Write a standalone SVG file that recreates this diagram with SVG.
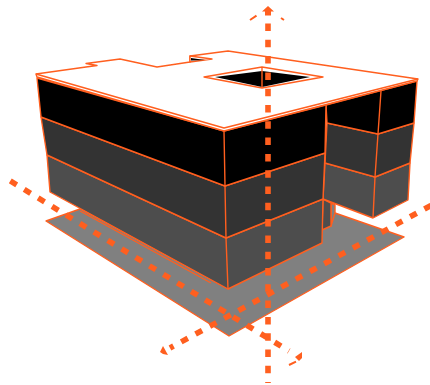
<svg xmlns="http://www.w3.org/2000/svg" width="430" height="385" viewBox="0 0 430 385">
<style>
.e{stroke:#ff5f1f;stroke-width:1.4;stroke-linejoin:round}
.a{stroke:#ff5f1f;stroke-width:5.600;fill:none;stroke-dasharray:7.500 8.800}
.h{stroke:#ff5f1f;stroke-width:2;fill:none}
.t{fill:#ff5f1f}
</style>
<rect width="430" height="385" fill="#fff"/>
<g id="ground"><polygon class="e" fill="#808080" points="46,221 80,209 228,289 322,230 335,213 404,237 229,336"/>
<path class="e" fill="none" d="M80,211L211,283"/></g>
<g id="wing">
<polygon class="e" fill="#808080" points="331,203 335,205 335,213 331,226"/>
<polygon class="e" fill="#4d4d4d" points="323,199 331,203 331,226 322,230"/>
<polygon class="e" fill="#4d4d4d" points="325,163 375,177 410,163 408,200 373,218 323,199"/>
<polygon class="e" fill="#333" points="327,123 378,134 414,123 410,163 375,177 325,163"/>
<polygon class="e" fill="#000" points="326,105 417,81 414,123 378,134 327,123"/>
<path class="e" fill="none" d="M381,91L378,134L375,177L373,218"/>
</g>
<g id="main-block">
<polygon class="e" fill="#4d4d4d" points="47,155 226,238 323,199 322,243 228,289 50,192"/>
<polygon class="e" fill="#333" points="41,117 225,186 325,153 323,199 226,238 47,155"/>
<polygon class="e" fill="#000" points="37,78 224,131 326,105 325,153 225,186 41,117"/>
<path class="e" fill="none" d="M224,131L225,186L226,238L228,289"/>
</g>
<g id="roof">
<polygon class="e" fill="#fff" points="36,74 86,67 97,65.500 86,63.500 120,59 157,67 190,62 190,56 228,51 418,79 417,81 224,131 37,77"/>
<path class="e" fill="none" d="M36,74L224,128L418,79"/>
<polygon class="e" fill="#fff" points="190,62 212,59 190,56"/>
<polygon fill="#000" points="191,60.500 191,58 205,60"/>
<polygon class="e" fill="#fff" points="204,77 262,67 323,77 262,88"/>
<polygon fill="#000" points="215,77 262,71 310,77 262,87"/>
<path class="e" fill="none" d="M262,67V88"/>
</g>
<g id="connectors">
<path class="a" d="M268,23.500V383"/>
<path class="a" d="M431,205.400L170,348"/>
<path class="a" d="M10.300,180.900L289,351"/>
<path class="t" d="M268,6l6,5.500h-3v4h-6v-4h-3z"/>
<path class="t" d="M163,346l5,9 -5,-1 -3,-2z"/>
<path class="t" d="M302,352v6l-3,3 -4,-4z"/>
<path class="h" d="M250,20l6.500,-4.300M281,18l3,2M289,365l7,-3.300"/>
</g>
</svg>
